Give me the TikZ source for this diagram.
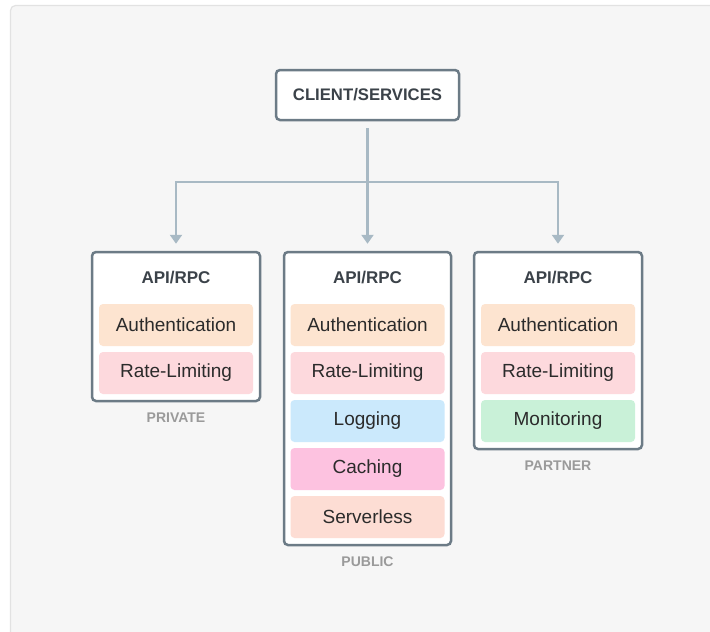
\documentclass[tikz,border=0pt]{standalone}
\usepackage{fontspec}
\setmainfont{Liberation Sans}
\usetikzlibrary{arrows.meta}
\definecolor{panelbg}{HTML}{F6F6F6}
\definecolor{panelline}{HTML}{E2E2E2}
\definecolor{boxline}{HTML}{6C7B86}
\definecolor{wire}{HTML}{A8B9C4}
\definecolor{titletext}{HTML}{3B4249}
\definecolor{itemtext}{HTML}{2B2B2B}
\definecolor{tagtext}{HTML}{9A9A9A}
\definecolor{authfill}{HTML}{FDE4D0}
\definecolor{ratefill}{HTML}{FDD9DD}
\definecolor{logfill}{HTML}{CBE9FC}
\definecolor{cachefill}{HTML}{FDC2E0}
\definecolor{serverfill}{HTML}{FDDDD4}
\definecolor{monfill}{HTML}{C9F1D8}
\tikzset{
  frame/.style={draw=boxline, line width=2.5pt, fill=white, rounded corners=4pt},
  item/.style={rounded corners=4pt, minimum width=154pt, minimum height=42pt,
    inner sep=0pt, text=itemtext, font=\fontsize{19}{22}\selectfont},
  apititle/.style={text=titletext, font=\fontsize{17}{20}\selectfont\bfseries, inner sep=0pt},
  tag/.style={text=tagtext, font=\fontsize{14}{16}\selectfont\bfseries, inner sep=0pt},
  wireline/.style={draw=wire, line width=2.5pt},
  arrowline/.style={wireline, -{Triangle[width=12pt,length=9pt]}, shorten >=7pt}
}
\begin{document}
\begin{tikzpicture}[x=1pt, y=-1pt]
\useasboundingbox (0,0) rectangle (710,632);
\fill[white] (0,0) rectangle (710,632);
\draw[fill=panelbg, draw=panelline, line width=1.2pt, rounded corners=5pt] (10.5,5.5) rectangle (730,660);

% top node
\node[frame, minimum width=183pt, minimum height=50pt, inner sep=0pt,
  text=titletext, font=\fontsize{16.7}{19}\selectfont\bfseries] (client) at (367.5,95) {CLIENT/SERVICES};

% gateway frames
\node[frame, minimum width=168pt, minimum height=149pt] (priv) at (176,326.5) {};
\node[frame, minimum width=167pt, minimum height=293pt] (pub) at (367.5,398.5) {};
\node[frame, minimum width=168pt, minimum height=197pt] (part) at (558,350.5) {};

% titles
\node[apititle] (privtitle) at (176,278) {API/RPC};
\node[apititle] (pubtitle) at (367.5,278) {API/RPC};
\node[apititle] (parttitle) at (558,278) {API/RPC};

% private stack
\node[item, fill=authfill] (privauth) at (176,325) {Authentication};
\node[item, fill=ratefill] (privrate) at (176,373) {Rate-Limiting};

% public stack
\node[item, fill=authfill] (pubauth) at (367.5,325) {Authentication};
\node[item, fill=ratefill] (pubrate) at (367.5,373) {Rate-Limiting};
\node[item, fill=logfill] (publog) at (367.5,421) {Logging};
\node[item, fill=cachefill] (pubcache) at (367.5,469) {Caching};
\node[item, fill=serverfill] (pubserver) at (367.5,517) {Serverless};

% partner stack
\node[item, fill=authfill] (partauth) at (558,325) {Authentication};
\node[item, fill=ratefill] (partrate) at (558,373) {Rate-Limiting};
\node[item, fill=monfill] (partmon) at (558,421) {Monitoring};

% captions
\node[tag] (privtag) at (176,418) {PRIVATE};
\node[tag] (pubtag) at (367.5,562) {PUBLIC};
\node[tag] (parttag) at (558,466) {PARTNER};

% connectors
\coordinate (split) at (367.5,182);
\draw[arrowline, shorten <=7pt] (client.south) -- (pub.north);
\draw[arrowline] (split) -| (priv.north);
\draw[arrowline] (split) -| (part.north);
\end{tikzpicture}
\end{document}
